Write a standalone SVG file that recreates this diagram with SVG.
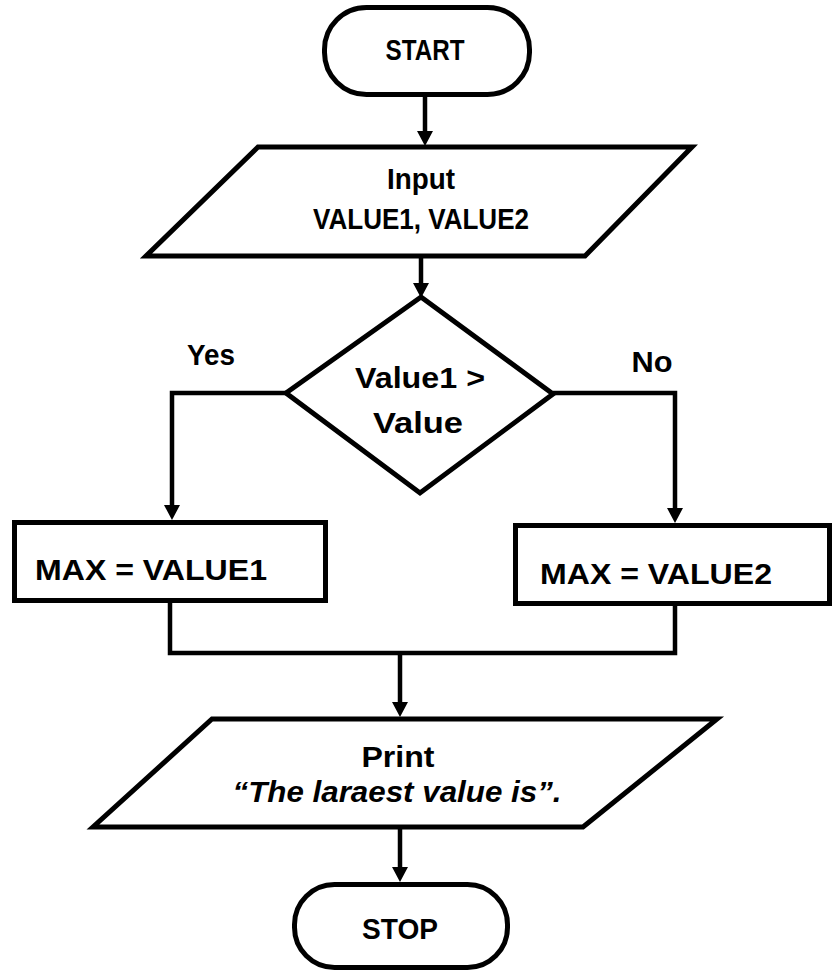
<svg xmlns="http://www.w3.org/2000/svg" width="832" height="974" viewBox="0 0 832 974">
<style>
.shape{fill:#fff;stroke:#000;stroke-width:5;stroke-linejoin:miter}
.conn{fill:none;stroke:#000;stroke-width:4.5}
.t{font-family:"Liberation Sans",Arial,sans-serif;font-weight:bold;font-size:30px;fill:#000}
.m{text-anchor:middle}
.i{font-style:italic}
</style>
<defs>
<marker id="arrow" markerUnits="userSpaceOnUse" markerWidth="16" markerHeight="16" refX="0" refY="8" orient="auto">
<path d="M0,0 L15,8 L0,16 z" fill="#000"/>
</marker>
</defs>
<g id="connectors">
<path class="conn" d="M425,95 V131" marker-end="url(#arrow)"/>
<path class="conn" d="M421,256 V283" marker-end="url(#arrow)"/>
<path class="conn" d="M286,393 H172 V505" marker-end="url(#arrow)"/>
<path class="conn" d="M553,393 H675 V508" marker-end="url(#arrow)"/>
<path class="conn" d="M170,602 V653 H675 V603"/>
<path class="conn" d="M400,653 V702" marker-end="url(#arrow)"/>
<path class="conn" d="M400,827 V867" marker-end="url(#arrow)"/>
</g>
<g id="start">
<rect class="shape" x="324.5" y="7.5" width="205" height="87" rx="42" ry="42"/>
<text class="t m" x="425" y="60" textLength="79" lengthAdjust="spacingAndGlyphs">START</text>
</g>
<g id="input">
<polygon class="shape" points="258,147 692,147 585,256 146,256"/>
<text class="t m" x="421" y="189" textLength="68" lengthAdjust="spacingAndGlyphs">Input</text>
<text class="t m" x="421" y="229" textLength="216" lengthAdjust="spacingAndGlyphs">VALUE1, VALUE2</text>
</g>
<g id="decision">
<polygon class="shape" points="421,297 553,394 420,493 286,393"/>
<text class="t m" x="420" y="388" textLength="130" lengthAdjust="spacingAndGlyphs">Value1 &gt;</text>
<text class="t m" x="418" y="433" textLength="90" lengthAdjust="spacingAndGlyphs">Value</text>
</g>
<g id="label-yes">
<text class="t m" x="211" y="365" textLength="48" lengthAdjust="spacingAndGlyphs">Yes</text>
</g>
<g id="label-no">
<text class="t m" x="652" y="372" textLength="41" lengthAdjust="spacingAndGlyphs">No</text>
</g>
<g id="max1">
<rect class="shape" x="14.5" y="522.5" width="311" height="78"/>
<text class="t" x="35" y="580" textLength="232" lengthAdjust="spacingAndGlyphs">MAX = VALUE1</text>
</g>
<g id="max2">
<rect class="shape" x="515.5" y="525.5" width="314" height="78"/>
<text class="t" x="540" y="584" textLength="232" lengthAdjust="spacingAndGlyphs">MAX = VALUE2</text>
</g>
<g id="print">
<polygon class="shape" points="212,719 717,719 583,827 93,827"/>
<text class="t m" x="398" y="767" textLength="73" lengthAdjust="spacingAndGlyphs">Print</text>
<text class="t m i" x="397" y="802" textLength="329" lengthAdjust="spacingAndGlyphs">“The laraest value is”.</text>
</g>
<g id="stop">
<rect class="shape" x="294.5" y="884.5" width="213" height="83" rx="40" ry="40"/>
<text class="t m" x="400" y="939" textLength="76" lengthAdjust="spacingAndGlyphs">STOP</text>
</g>
</svg>
